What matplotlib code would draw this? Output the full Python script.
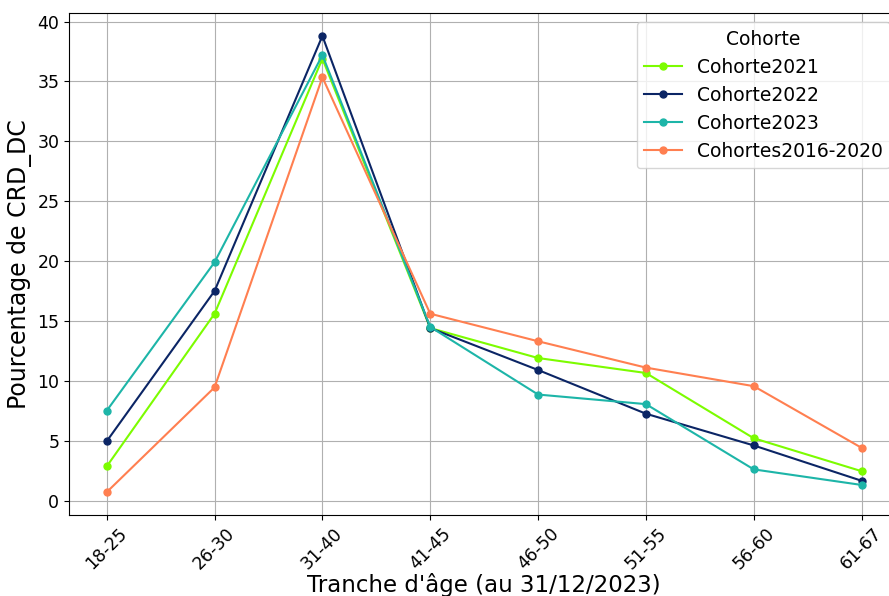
import numpy as np
import matplotlib.pyplot as plt

tranches = ["18-25", "26-30", "31-40", "41-45", "46-50", "51-55", "56-60", "61-67"]

cohorte_2021 = [2.85, 15.6, 36.9, 14.4, 11.9, 10.65, 5.2, 2.45]
cohorte_2022 = [4.95, 17.5, 38.8, 14.4, 10.9, 7.25, 4.6, 1.65]
cohorte_2023 = [7.5, 19.9, 37.2, 14.5, 8.85, 8.05, 2.6, 1.3]
cohortes_2016_2020 = [0.7, 9.45, 35.35, 15.6, 13.3, 11.1, 9.55, 4.4]

series = [
    ("Cohorte2021", cohorte_2021, "#7cfc00"),
    ("Cohorte2022", cohorte_2022, "#0b2565"),
    ("Cohorte2023", cohorte_2023, "#1db5a8"),
    ("Cohortes2016-2020", cohortes_2016_2020, "#ff7f50"),
]

fig = plt.figure(figsize=(8.89, 5.96), dpi=100)
ax = fig.add_axes([0.0776, 0.136, 0.934, 0.842])

for name, values, color in series:
    ax.plot(tranches, values, marker="o", markersize=5, color=color, label=name)

ax.grid(True)
ax.set_xlabel("Tranche d'âge (au 31/12/2023)", fontsize=16.5, labelpad=0)
ax.set_ylabel("Pourcentage de CRD_DC", fontsize=17)
ax.tick_params(axis="both", labelsize=12.5)
plt.setp(ax.get_xticklabels(), rotation=45)
ax.legend(title="Cohorte", fontsize=13.5, title_fontsize=13.5, loc="upper right",
          labelspacing=0.48)

fig.savefig("out.png", dpi=100)
